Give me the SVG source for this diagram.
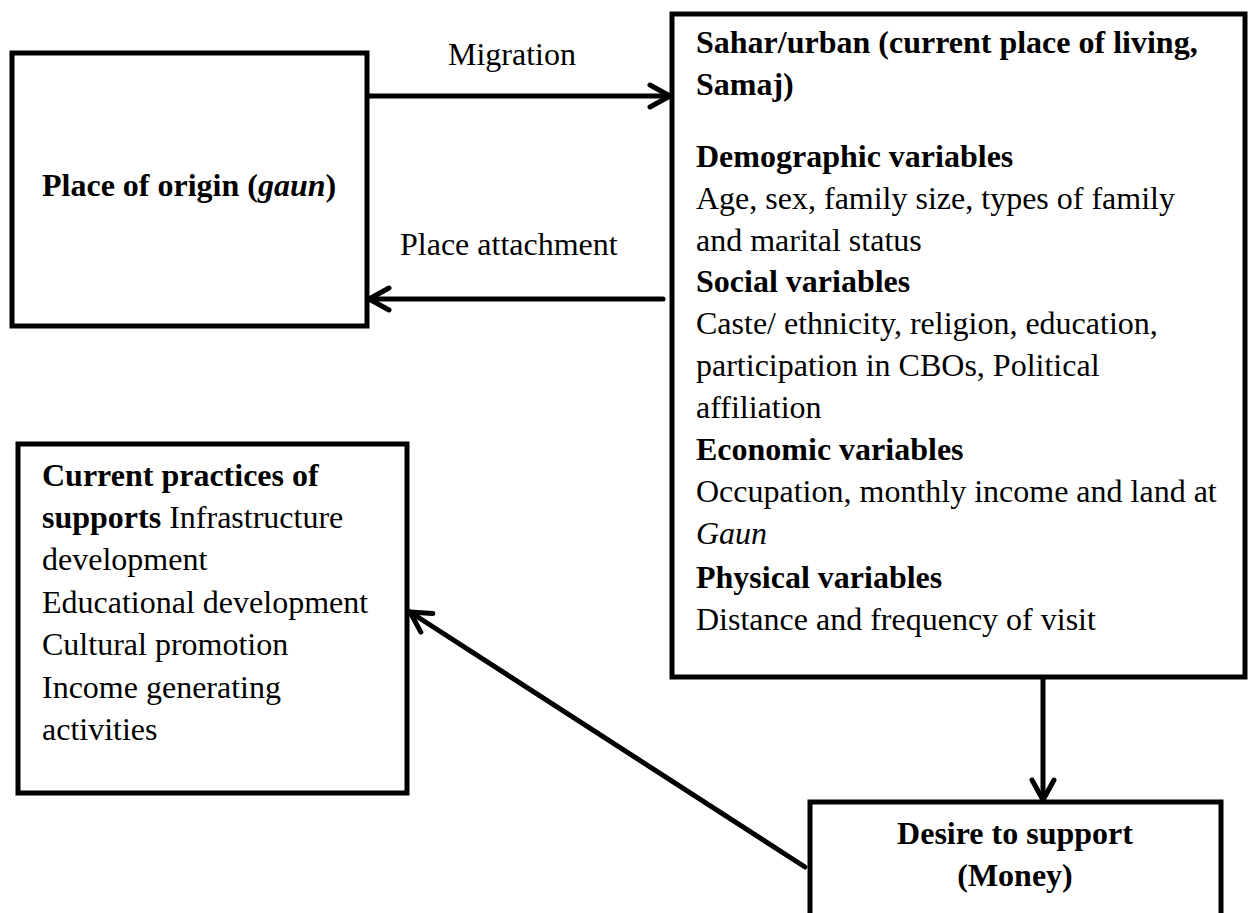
<svg xmlns="http://www.w3.org/2000/svg" width="1251" height="913" viewBox="0 0 1251 913">
<style>
.box{fill:#fff;stroke:#000;stroke-width:5;stroke-linejoin:miter}
.t{font-family:"Liberation Serif","Times New Roman",serif;font-size:32px;fill:#000}
.b{font-weight:bold}
.i{font-style:italic}
.c{stroke:#000;stroke-width:5;fill:none;stroke-linecap:round}
</style>
<defs>
<marker id="ah" viewBox="-26 -16 32 32" refX="0" refY="0" markerWidth="32" markerHeight="32" markerUnits="userSpaceOnUse" orient="auto" overflow="visible">
<path d="M-20,-11 L0,0 L-20,11" fill="none" stroke="#000" stroke-width="5" stroke-linecap="round" stroke-linejoin="round"/>
</marker>
</defs>
<rect width="1251" height="913" fill="#fff"/>
<g id="origin">
<rect class="box" x="12" y="53" width="355" height="273"/>
<text class="t b" x="42" y="196">Place of origin (<tspan class="i">gaun</tspan>)</text>
</g>
<g id="urban">
<rect class="box" x="672" y="14" width="573" height="663"/>
<text class="t b" x="696" y="53">Sahar/urban (current place of living,</text>
<text class="t b" x="696" y="95">Samaj)</text>
<text class="t b" x="696" y="167">Demographic variables</text>
<text class="t" x="696" y="209">Age, sex, family size, types of family</text>
<text class="t" x="696" y="251">and marital status</text>
<text class="t b" x="696" y="292">Social variables</text>
<text class="t" x="696" y="334">Caste/ ethnicity, religion, education,</text>
<text class="t" x="696" y="376">participation in CBOs, Political</text>
<text class="t" x="696" y="418">affiliation</text>
<text class="t b" x="696" y="460">Economic variables</text>
<text class="t" x="696" y="502">Occupation, monthly income and land at</text>
<text class="t i" x="696" y="544">Gaun</text>
<text class="t b" x="696" y="588">Physical variables</text>
<text class="t" x="696" y="630">Distance and frequency of visit</text>
</g>
<g id="practices">
<rect class="box" x="18" y="444" width="389" height="349"/>
<text class="t" x="42" y="486"><tspan class="b">Current practices of</tspan></text>
<text class="t" x="42" y="528"><tspan class="b">supports</tspan> Infrastructure</text>
<text class="t" x="42" y="570">development</text>
<text class="t" x="42" y="613">Educational development</text>
<text class="t" x="42" y="655">Cultural promotion</text>
<text class="t" x="42" y="698">Income generating</text>
<text class="t" x="42" y="740">activities</text>
</g>
<g id="desire">
<rect class="box" x="810" y="802" width="411" height="140"/>
<text class="t b" x="1015" y="844" text-anchor="middle">Desire to support</text>
<text class="t b" x="1015" y="886" text-anchor="middle">(Money)</text>
</g>
<g id="connectors">
<line class="c" x1="370" y1="96" x2="670" y2="96" marker-end="url(#ah)"/>
<text class="t" x="448" y="65">Migration</text>
<line class="c" x1="663" y1="299" x2="369" y2="299" marker-end="url(#ah)"/>
<text class="t" x="400" y="255">Place attachment</text>
<line class="c" x1="1043" y1="679" x2="1043" y2="800" marker-end="url(#ah)"/>
<line class="c" x1="805" y1="867" x2="410" y2="612" marker-end="url(#ah)"/>
</g>
</svg>
